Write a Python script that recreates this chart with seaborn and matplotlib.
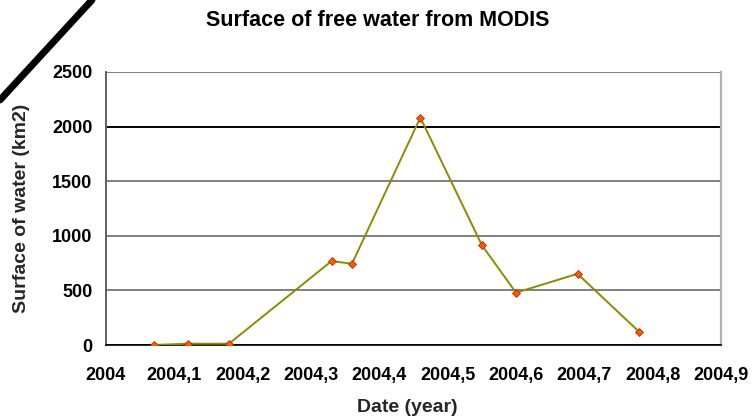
import matplotlib
matplotlib.use("Agg")
import matplotlib.pyplot as plt
import matplotlib.lines as mlines
import seaborn as sns
import pandas as pd

# MODIS free-water surface estimates through 2004
dates = [2004.07, 2004.12, 2004.18, 2004.33, 2004.36, 2004.46,
         2004.55, 2004.60, 2004.69, 2004.78]
surface_km2 = [0, 12, 12, 768, 744, 2083, 915, 479, 652, 122]

x_ticks = [2004.0, 2004.1, 2004.2, 2004.3, 2004.4, 2004.5, 2004.6, 2004.7, 2004.8, 2004.9]
x_tick_labels = ["2004", "2004,1", "2004,2", "2004,3", "2004,4", "2004,5",
                 "2004,6", "2004,7", "2004,8", "2004,9"]
y_ticks = [0, 500, 1000, 1500, 2000, 2500]

df = pd.DataFrame({"date": dates, "surface": surface_km2})

sns.set_theme(style="white")
plt.rcParams["font.family"] = ["Liberation Sans", "DejaVu Sans"]
plt.rcParams["font.weight"] = "bold"
plt.rcParams["text.color"] = "black"
plt.rcParams["xtick.color"] = "#404040"
plt.rcParams["ytick.color"] = "#404040"
plt.rcParams["xtick.labelcolor"] = "black"
plt.rcParams["ytick.labelcolor"] = "black"

fig = plt.figure(figsize=(7.54, 4.18), dpi=100)
ax = fig.add_axes([106 / 754, 1 - 345 / 418, (721 - 106) / 754, (345 - 72) / 418])

# horizontal gridlines
for v in y_ticks:
    col = "#000000" if v in (0, 2000) else "#7f7f7f"
    ax.axhline(v, color=col, lw=1.4 if v != 0 else 1.2, zorder=1)

sns.lineplot(data=df, x="date", y="surface", ax=ax, color="#8c8c00", lw=1.4,
             marker="D", markersize=4.5, markerfacecolor="#ff5a00",
             markeredgecolor="#b03000", markeredgewidth=0.6, zorder=3)

ax.set_xlim(2004.0, 2004.9)
ax.set_ylim(0, 2500)
ax.set_xticks(x_ticks)
ax.set_xticklabels(x_tick_labels)
ax.set_yticks(y_ticks)
ax.set_yticklabels([str(v) for v in y_ticks])
ax.tick_params(axis="both", direction="out", length=3.8, width=1, labelsize=13)
ax.tick_params(axis="x", pad=12)
ax.tick_params(axis="y", pad=6)
for lbl in ax.get_xticklabels() + ax.get_yticklabels():
    lbl.set_fontweight("bold")

ax.spines["top"].set_visible(False)
ax.spines["left"].set_color("#606060")
ax.spines["left"].set_linewidth(1.4)
ax.spines["right"].set_color("#b0b0b0")
ax.spines["right"].set_linewidth(1.6)
ax.spines["bottom"].set_color("#000000")
ax.spines["bottom"].set_linewidth(1.2)

ax.set_xlabel("Date (year)", fontsize=14, fontweight="bold")
ax.set_ylabel("Surface of water (km2)", fontsize=14, fontweight="bold")
ax.xaxis.set_label_coords((407 - 106) / 615, (345 - 407) / 273)
ax.xaxis.label.set_va("center")
ax.yaxis.set_label_coords((22 - 106) / 615, (345 - 208) / 273)
ax.yaxis.label.set_va("center")

fig.text(378 / 754, 1 - 20 / 418, "Surface of free water from MODIS",
         ha="center", va="center", fontsize=15.5, fontweight="bold")

# diagonal corner stroke
fig.add_artist(mlines.Line2D([0, 92 / 754], [1 - 100 / 418, 1.0],
                             transform=fig.transFigure, color="black", lw=5))

fig.savefig("out.png", dpi=100)
